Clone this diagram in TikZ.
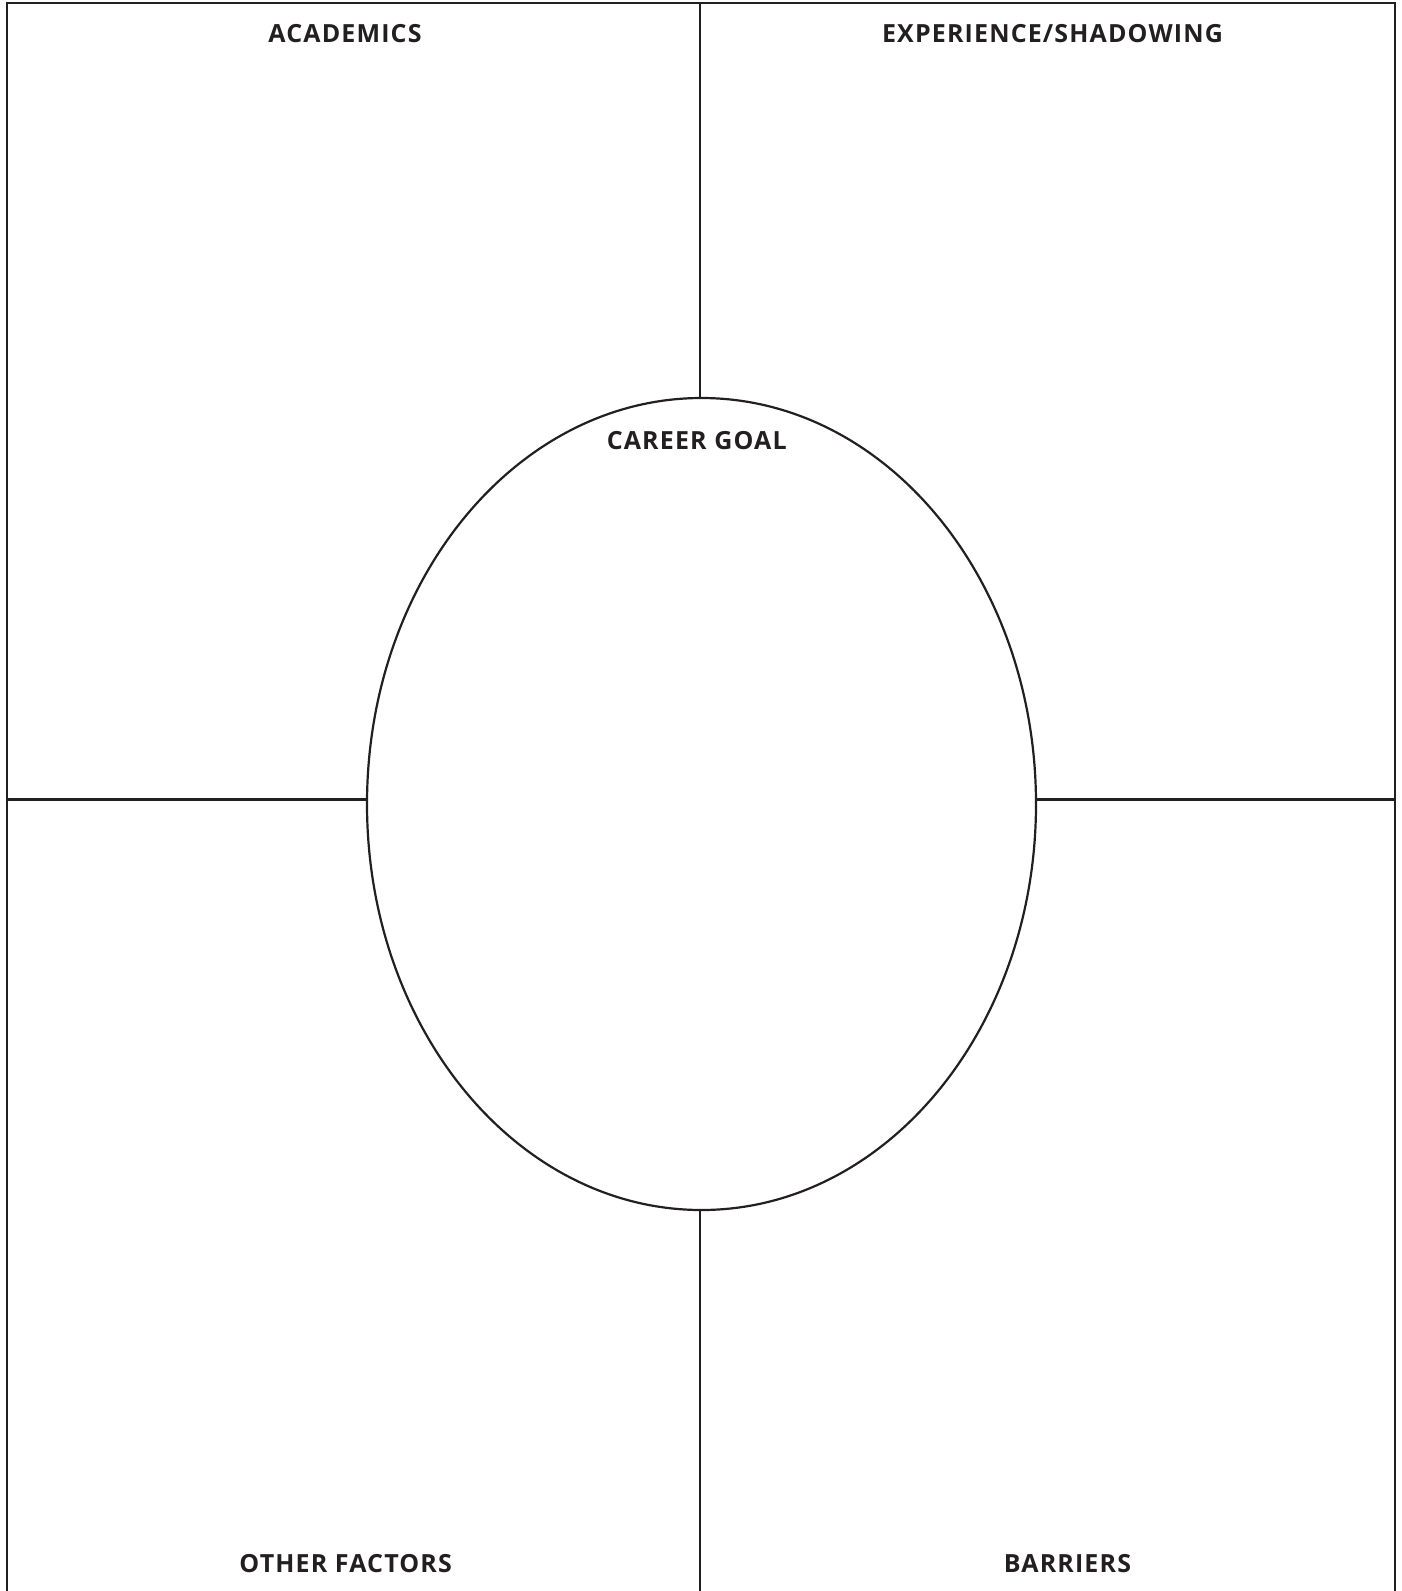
\documentclass[tikz,border=0pt]{standalone}
\usepackage{fontspec}
\setmainfont{Open Sans}
\newfontfamily\labelfont{Open Sans}[LetterSpace=4.6]
\usetikzlibrary{shapes.geometric}
\definecolor{ink}{HTML}{231F20}
\begin{document}
\begin{tikzpicture}[x=1pt,y=-1pt,
  rule/.style={draw=ink,line width=2.2pt},
  label/.style={text=ink,font=\labelfont\fontsize{25}{29}\selectfont\bfseries,anchor=base,inner sep=0pt}]
\useasboundingbox (0,0) rectangle (1401,1591);
% frame corners and free ends
\coordinate (tl) at (7,3);
\coordinate (tr) at (1395,3);
\coordinate (bl) at (7,1600);
\coordinate (br) at (1395,1600);
\coordinate (topmid) at (700,3);
\coordinate (botmid) at (700,1600);
\coordinate (leftmid) at (7,799.5);
\coordinate (rightmid) at (1395,799.5);
\begin{scope}
\clip (0,0) rectangle (1401,1591);
\draw[rule] (bl) -- (tl) -- (tr) -- (br);
\node[ellipse,rule,minimum width=669pt,minimum height=812pt,inner sep=0pt] (goal) at (701.5,804) {};
\draw[rule] (topmid) -- (goal.north -| topmid);
\draw[rule] (botmid) -- (goal.south -| botmid);
\draw[rule] (leftmid) -- (goal.west |- leftmid);
\draw[rule] (rightmid) -- (goal.east |- rightmid);
\end{scope}
\node[label] (acad) at (345,42.3) {ACADEMICS};
\node[label] (exp) at (1052.5,42.3) {EXPERIENCE/SHADOWING};
\node[label] (cg) at (696.7,449) {CAREER GOAL};
\node[label] (other) at (345.7,1572) {OTHER FACTORS};
\node[label] (barr) at (1067.5,1572) {BARRIERS};
\end{tikzpicture}
\end{document}
